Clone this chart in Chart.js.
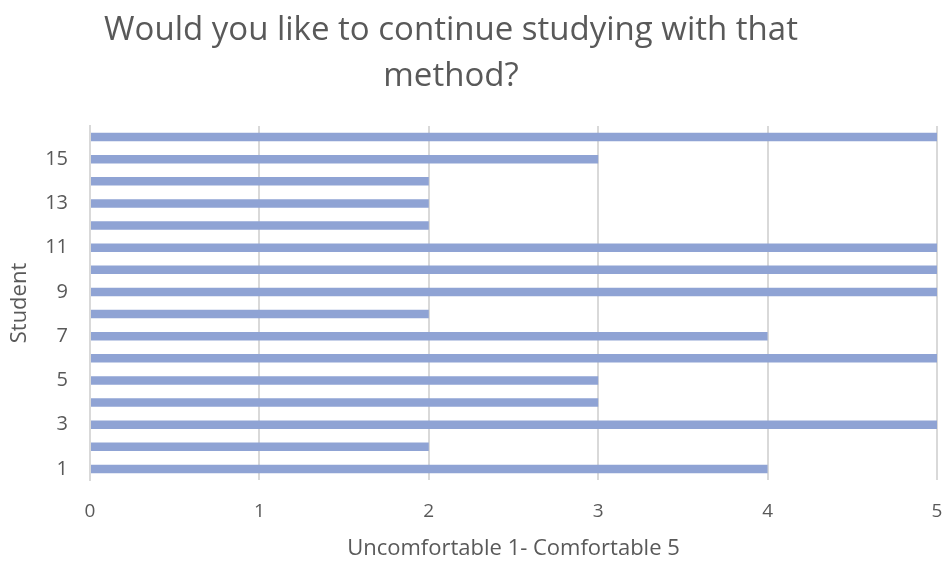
<!DOCTYPE html>
<html>
<head>
<meta charset="utf-8">
<script src="https://cdn.jsdelivr.net/npm/chart.js@4"></script>
<style>
  html, body { margin: 0; padding: 0; background: #fff; }
</style>
</head>
<body>
<canvas id="chart" width="947" height="562"></canvas>
<script>
// 학생 번호
const students = ['1','2','3','4','5','6','7','8','9','10','11','12','13','14','15','16'];
// 응답 값 (1 불편 - 5 편함)
const answers = [4, 2, 5, 3, 3, 5, 4, 2, 5, 5, 5, 2, 2, 2, 3, 5];
// 가로축 눈금
const scoreTicks = [0, 1, 2, 3, 4, 5];

const titleLines = ['Would you like to continue studying with that', 'method?'];
const xTitle = 'Uncomfortable 1- Comfortable 5';
const yTitle = 'Student';

const grey = '#595959';
const font = "'Open Sans', sans-serif";

// 제목은 원본처럼 약간 왼쪽에 그림
const titlePlugin = {
    id: 'leftTitle',
    afterDraw: function(chart) {
        const ctx = chart.ctx;
        ctx.save();
        ctx.fillStyle = grey;
        ctx.font = "33px " + font;
        ctx.textAlign = 'center';
        ctx.textBaseline = 'middle';
        ctx.fillText(titleLines[0], 451, 31);
        ctx.fillText(titleLines[1], 451, 77);
        ctx.restore();
    }
};

const config = {
    type: 'bar',
    data: {
        labels: students,
        datasets: [{
            data: answers,
            backgroundColor: '#8fa3d4',
            barPercentage: 1,
            categoryPercentage: 0.38
        }]
    },
    options: {
        indexAxis: 'y',
        responsive: false,
        animation: false,
        layout: { padding: { left: 0, right: 0, top: 126, bottom: 0 } },
        plugins: {
            legend: { display: false },
            tooltip: { enabled: false },
            title: { display: false }
        },
        scales: {
            x: {
                min: 0,
                max: 5,
                afterBuildTicks: function(axis) {
                    axis.ticks = scoreTicks.map(v => ({ value: v }));
                },
                afterFit: function(axis) {
                    axis.paddingRight = 10;
                    axis.height = 82;
                },
                grid: { color: '#d9d9d9', lineWidth: 2, drawTicks: false },
                border: { display: false },
                ticks: { color: grey, padding: 20, font: { family: font, size: 19 } },
                title: {
                    display: true,
                    text: xTitle,
                    color: grey,
                    font: { family: font, size: 22 },
                    padding: { top: 14, bottom: 0 }
                }
            },
            y: {
                reverse: true,
                afterFit: function(axis) {
                    axis.width = 90;
                },
                grid: { display: false, drawTicks: false },
                border: { display: true, color: '#d9d9d9', width: 2 },
                ticks: {
                    autoSkip: false,
                    color: grey,
                    padding: 22,
                    font: { family: font, size: 20 },
                    callback: function(value, index) {
                        return index % 2 === 0 ? students[index] : '';
                    }
                },
                title: {
                    display: true,
                    text: yTitle,
                    color: grey,
                    font: { family: font, size: 22 },
                    padding: { top: 7, bottom: 0 }
                }
            }
        }
    },
    plugins: [titlePlugin]
};

const studentChart = new Chart(document.getElementById('chart'), config);
</script>
</body>
</html>
